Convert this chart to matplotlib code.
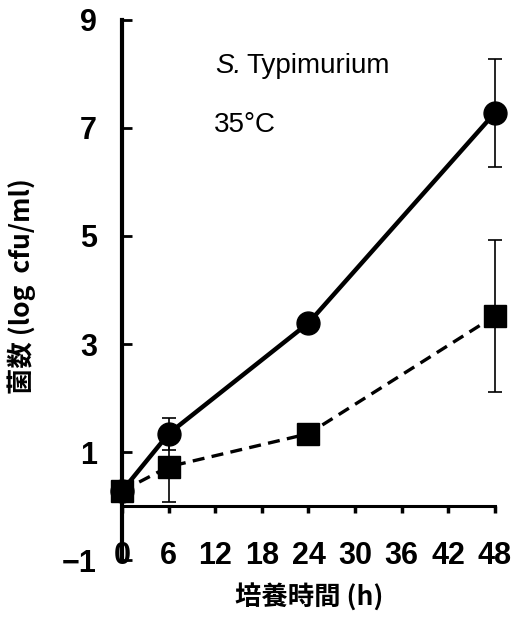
import numpy as np
import matplotlib.pyplot as plt

plt.rcParams['font.family'] = ['Liberation Sans Narrow', 'Liberation Sans', 'Noto Sans CJK JP', 'DejaVu Sans']

hours = [0, 6, 24, 48]
circle_vals = [0.28, 1.34, 3.39, 7.28]
circle_err = [0.0, 0.3, 0.0, 1.0]
square_vals = [0.28, 0.73, 1.34, 3.52]
square_err = [0.0, 0.65, 0.0, 1.41]
xticks = [0, 6, 12, 18, 24, 30, 36, 42, 48]
yticks = [-1, 1, 3, 5, 7, 9]

fig = plt.figure(figsize=(5.15, 6.21), dpi=100)
ax = fig.add_axes([0.237, 0.098, 0.724, 0.870])

# error bars first, then lines and markers
ax.errorbar(hours, circle_vals, yerr=circle_err, fmt='none', ecolor='black',
            elinewidth=1.2, capsize=5, capthick=1.2, clip_on=False, zorder=2)
ax.errorbar(hours, square_vals, yerr=square_err, fmt='none', ecolor='black',
            elinewidth=1.2, capsize=5, capthick=1.2, clip_on=False, zorder=2)
ax.plot(hours, circle_vals, color='black', lw=3.2, marker='o', ms=16.5,
        clip_on=False, zorder=4)
ax.plot(hours, square_vals, color='black', lw=2.4, ls=(0, (3.6, 2.2)), marker='s',
        ms=16.5, clip_on=False, zorder=5)

ax.set_xlim(0, 48)
ax.set_ylim(-1, 9)
ax.spines['top'].set_visible(False)
ax.spines['right'].set_visible(False)
ax.spines['bottom'].set_position(('data', 0))
ax.spines['left'].set_linewidth(3)
ax.spines['bottom'].set_linewidth(2.2)

ax.set_xticks(xticks)
ax.set_yticks(yticks)
ax.set_yticklabels(['\u22121', '1', '3', '5', '7', '9'])
ax.tick_params(axis='x', direction='out', length=5, width=2.5, pad=20,
               labelsize=22)
ax.tick_params(axis='y', direction='in', length=7, width=2, pad=18,
               labelsize=22)
for lab in ax.get_xticklabels() + ax.get_yticklabels():
    lab.set_fontweight('bold')

ax.text(12.0, 8.15, 'S.', fontstyle='italic', fontsize=20,
        family=['Liberation Sans', 'DejaVu Sans'], va='center')
ax.text(16.0, 8.15, 'Typimurium', fontsize=20,
        family=['Liberation Sans', 'DejaVu Sans'], va='center')
ax.text(11.8, 7.05, '35\u00b0C', fontsize=20,
        family=['Liberation Sans', 'DejaVu Sans'], va='center')

fig.text(0.043, 0.54, '菌数 (log  cfu/ml)', rotation=90, fontsize=19,
         fontweight='bold', ha='center', va='center',
         family=['Noto Sans CJK JP', 'DejaVu Sans'])
fig.text(0.6, 0.037, '培養時間 (h)', fontsize=19, fontweight='bold',
         ha='center', va='center', family=['Noto Sans CJK JP', 'DejaVu Sans'])

fig.savefig('out.png', dpi=100)
